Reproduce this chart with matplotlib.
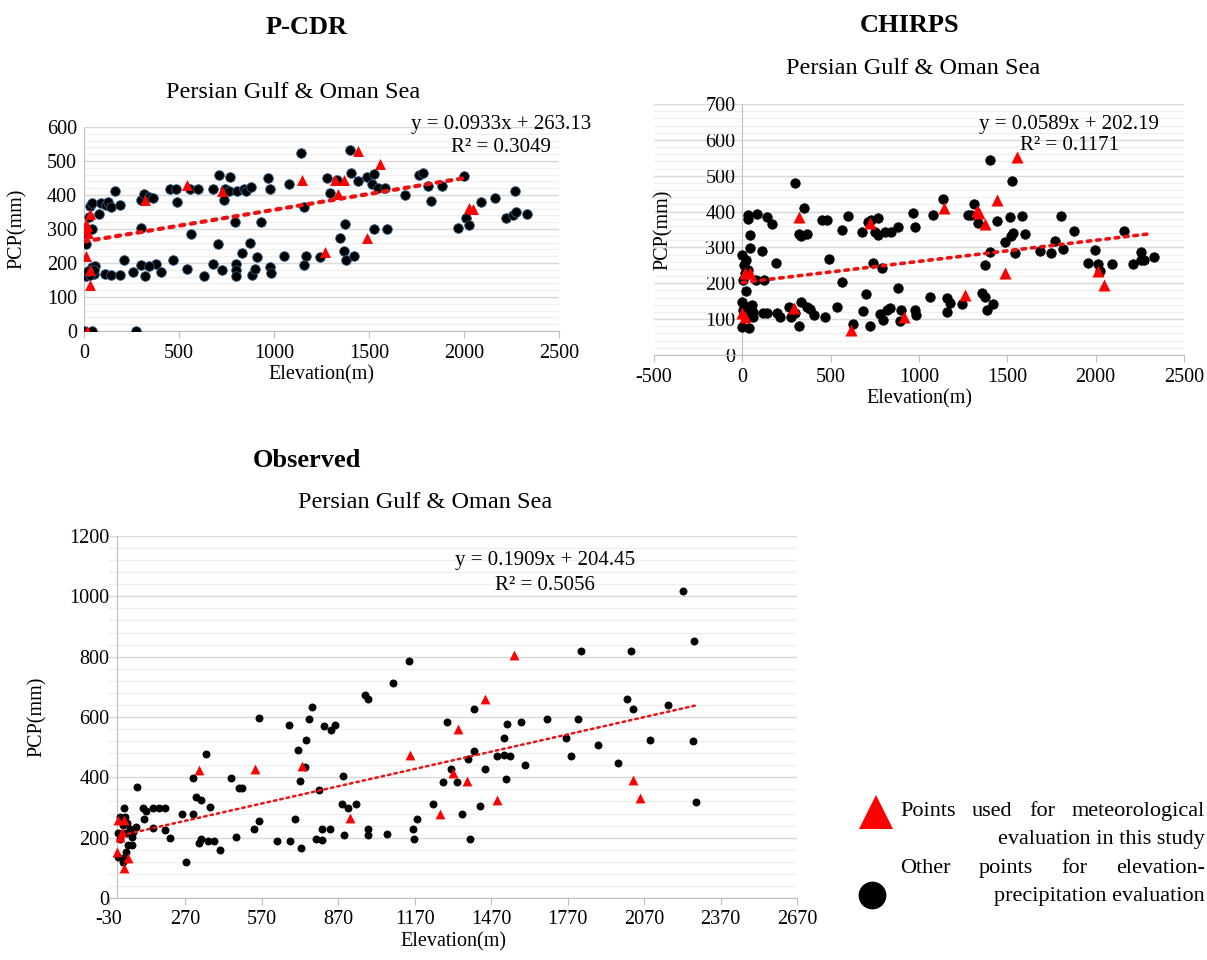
import numpy as np
import matplotlib
matplotlib.use('Agg')
import matplotlib.pyplot as plt
from matplotlib.lines import Line2D
from matplotlib.ticker import MultipleLocator

plt.rcParams['font.family'] = ['Liberation Serif', 'DejaVu Serif']
plt.rcParams['axes.unicode_minus'] = False

# ---------------- data ----------------
# P-CDR
pcdr_other_x = [0, 44, 274, 8, 8, 4, 34, 44, 24, 40, 44, 60, 54, 34, 50, 20,
                80, 88, 114, 124, 144, 164, 188, 108, 144, 188, 210, 260, 298, 300,
                300, 314, 320, 344, 364, 380, 344, 404, 450, 484, 468, 490, 544, 560,
                564, 598, 630, 678, 680, 710, 704, 724, 738, 770, 744, 764, 794, 798,
                798, 802, 804, 832, 840, 854, 880, 874, 884, 900, 910, 934, 968, 980,
                980, 984, 1054, 1080, 1140, 1158, 1158, 1170, 1240, 1278, 1294, 1334,
                1350, 1374, 1370, 1378, 1400, 1404, 1420, 1444, 1488, 1514, 1524, 1528,
                1550, 1584, 1594, 1688, 1764, 1782, 1812, 1824, 1886, 1966, 2000, 2012,
                2026, 2090, 2162, 2220, 2260, 2266, 2272, 2332]
pcdr_other_y = [0, 0, 0, 162, 255, 291, 367, 375, 335, 301, 188, 191, 169, 164, 180, 175,
                345, 375, 372, 379, 365, 412, 372, 169, 164, 164, 208, 173, 384, 303,
                193, 402, 161, 394, 391, 198, 191, 173, 418, 418, 208, 379, 183, 418,
                286, 418, 161, 418, 196, 458, 255, 178, 384, 454, 418, 411, 320, 196,
                178, 162, 411, 229, 418, 411, 423, 259, 164, 183, 218, 320, 451, 418,
                188, 171, 222, 433, 523, 365, 195, 222, 219, 451, 407, 443,
                274, 314, 235, 210, 533, 466, 222, 440, 452, 433, 462, 299,
                421, 421, 299, 401, 458, 465, 427, 381, 427, 304, 455, 333,
                311, 380, 391, 333, 342, 412, 351, 345]
pcdr_met_x = [8, 8, 20, 30, 30, 34, 14, 4, 14, 320, 544, 728, 1148, 1270, 1320, 1338,
              1370, 1440, 1490, 1558, 2026, 2050]
pcdr_met_y = [222, 316, 288, 345, 178, 136, 0, 300, 310, 384, 428, 411, 445, 232, 443, 404,
              445, 529, 273, 490, 362, 360]
pcdr_slope, pcdr_icpt, pcdr_r2 = 0.0933, 263.13, 0.3049
pcdr_trend_x = [0, 2020]

# CHIRPS
chirps_other_x = [0, 11, 21, 32, 17, 6, 21, 0, 4, 11, 0, 36, 32, 32, 43, 43, 32, 53, 60,
                  60, 79, 85, 109, 117, 123, 142, 138, 168, 191, 198, 213, 262, 277, 298,
                  298, 321, 319, 330, 334, 351, 368, 368, 383, 406, 453, 479, 470, 489,
                  538, 562, 562, 600, 628, 677, 681, 702, 713, 724, 730, 738, 751, 766,
                  766, 777, 792, 798, 805, 819, 834, 840, 879, 883, 890, 900, 968, 979,
                  979, 981, 1060, 1081, 1138, 1160, 1160, 1175, 1245, 1277, 1309, 1296,
                  1334, 1355, 1376, 1372, 1383, 1404, 1404, 1421, 1443, 1485, 1515, 1521,
                  1528, 1530, 1543, 1581, 1598, 1685, 1749, 1770, 1802, 1813, 1879, 1956,
                  1996, 2011, 2026, 2090, 2162, 2213, 2256, 2256, 2271, 2330]
chirps_other_y = [279, 251, 265, 237, 228, 209, 178, 149, 126, 112, 77, 74, 390, 378, 335,
                  299, 135, 139, 121, 107, 209, 393, 291, 116, 209, 116, 384, 365, 256,
                  116, 105, 133, 105, 118, 481, 81, 337, 332, 149, 409, 337, 135, 127,
                  112, 376, 376, 107, 268, 135, 350, 203, 388, 86, 342, 124, 169, 370, 82,
                  376, 256, 342, 335, 383, 114, 244, 98, 342, 125, 130, 342, 186, 358, 96,
                  125, 395, 358, 125, 112, 161, 391, 435, 158, 121, 146, 141, 391, 421,
                  391, 367, 172, 163, 251, 125, 544, 288, 141, 375, 314, 386, 332, 485,
                  340, 285, 389, 337, 290, 285, 318, 389, 297, 347, 256, 293, 253, 235,
                  253, 347, 253, 288, 265, 265, 274]
chirps_met_x = [0, 17, 17, 43, 319, 291, 615, 723, 915, 1143, 1260, 1330, 1340, 1372,
                1443, 1485, 1553, 2015, 2047]
chirps_met_y = [116, 107, 228, 228, 386, 130, 70, 367, 105, 409, 167, 402, 395, 365, 432,
                230, 553, 235, 194]
chirps_slope, chirps_icpt, chirps_r2 = 0.0589, 202.19, 0.1171
chirps_trend_x = [0, 2305]

# Observed
obs_other_x = [29, 13, 33, 39, 24, 6, 37, 59, 13, 59, 46, 6, 33, 26, 37, 76, 52, 65,
               81, 104, 108, 117, 141, 141, 167, 189, 189, 209, 258, 274, 300, 300, 313,
               330, 322, 330, 349, 359, 368, 382, 404, 450, 470, 480, 491, 538, 560, 560,
               630, 675, 679, 699, 712, 719, 723, 739, 744, 755, 768, 783, 796, 804, 804,
               812, 836, 842, 855, 884, 887, 891, 907, 940, 974, 987, 987, 987, 1060,
               1086, 1147, 1164, 1167, 1180, 1241, 1282, 1297, 1311, 1334, 1354, 1378,
               1385, 1403, 1403, 1425, 1445, 1491, 1522, 1522, 1528, 1532, 1545, 1586,
               1601, 1689, 1763, 1783, 1810, 1823, 1891, 1969, 2003, 2019, 2028, 2093,
               2165, 2223, 2260, 2266, 2275]
obs_other_y = [297, 269, 267, 247, 241, 214, 214, 202, 197, 175, 175, 136, 136, 119, 153,
               236, 230, 219, 368, 300, 263, 289, 232, 300, 300, 300, 227, 200, 278, 119,
               399, 280, 335, 324, 182, 194, 476, 189, 302, 189, 160, 399, 202, 363, 366,
               230, 255, 597, 189, 573, 189, 263, 490, 387, 167, 435, 523, 594, 632, 197,
               357, 228, 191, 571, 230, 556, 573, 313, 404, 208, 300, 313, 672, 661, 230,
               208, 213, 713, 784, 230, 197, 263, 311, 385, 582, 429, 383, 280, 462, 197,
               625, 488, 305, 426, 472, 531, 473, 393, 576, 472, 582, 442, 592, 531, 472,
               594, 820, 507, 449, 661, 820, 626, 523, 641, 1018, 521, 853, 319]
obs_met_x = [6, 29, 20, 13, 2, 46, 29, 322, 543, 726, 914, 1150, 1269, 1320, 1340, 1376,
             1447, 1491, 1561, 2025, 2054]
obs_met_y = [260, 260, 219, 202, 153, 131, 101, 424, 426, 437, 265, 473, 280, 416, 559,
             388, 661, 326, 805, 390, 332]
obs_slope, obs_icpt, obs_r2 = 0.1909, 204.45, 0.5056
obs_trend_x = [20, 2275]

W, H = 1207, 960
fig = plt.figure(figsize=(W / 100, H / 100), dpi=100)


def px_axes(x0, x1, ytop, ybot):
    return fig.add_axes([x0 / W, 1 - ybot / H, (x1 - x0) / W, (ybot - ytop) / H])


def style_axes(ax, xlim, ylim, xticks, ymajor, yminor):
    ax.set_xlim(*xlim)
    ax.set_ylim(*ylim)
    ax.set_xticks(xticks)
    ax.yaxis.set_major_locator(MultipleLocator(ymajor))
    ax.yaxis.set_minor_locator(MultipleLocator(yminor))
    ax.grid(axis='y', which='major', color='#d9d9d9', lw=1.0)
    ax.grid(axis='y', which='minor', color='#f0f0f0', lw=1.0)
    ax.set_axisbelow(True)
    for s in ['top', 'right']:
        ax.spines[s].set_visible(False)
    ax.spines['left'].set_position(('data', 0))
    ax.spines['bottom'].set_position(('data', 0))
    ax.spines['left'].set_color('#bfbfbf')
    ax.spines['bottom'].set_color('#bfbfbf')
    ax.tick_params(axis='y', which='both', length=0, labelsize=14.5, pad=5)
    ax.tick_params(axis='x', length=5, color='#bfbfbf', labelsize=14.5, pad=4)
    ax.set_xlabel('Elevation(m)', fontsize=14.5, labelpad=2)
    ax.set_ylabel('PCP(mm)', fontsize=14.5)


def draw(ax, ox, oy, mx, my, slope, icpt, tx, dot_s, tri_s, lw, edge):
    ax.scatter(ox, oy, s=dot_s, c='black', edgecolors=edge, linewidths=0.6, zorder=3)
    ax.scatter(mx, my, s=tri_s, c='red', marker='^', linewidths=0, zorder=4)
    tx = np.array(tx, dtype=float)
    ax.plot(tx, slope * tx + icpt, color='#f01010', lw=lw, ls=(0, (1, 1.6)),
            dash_capstyle='round', zorder=5)


# P-CDR
ax1 = px_axes(84, 559, 127, 331)
style_axes(ax1, (0, 2500), (0, 600), [0, 500, 1000, 1500, 2000, 2500], 100, 20)
draw(ax1, pcdr_other_x, pcdr_other_y, pcdr_met_x, pcdr_met_y, pcdr_slope, pcdr_icpt,
     pcdr_trend_x, 48, 62, 3.0, '#2e5f8a')
ax1.yaxis.set_label_coords(-0.12, 0.5)

# CHIRPS
ax2 = px_axes(654, 1184, 104, 355)
style_axes(ax2, (-500, 2500), (0, 700), [-500, 0, 500, 1000, 1500, 2000, 2500], 100, 20)
draw(ax2, chirps_other_x, chirps_other_y, chirps_met_x, chirps_met_y, chirps_slope,
     chirps_icpt, chirps_trend_x, 46, 75, 2.6, 'black')
ax2.yaxis.set_label_coords(0.035, 0.5)

# Observed
ax3 = px_axes(109, 797, 536, 898)
style_axes(ax3, (-30, 2670), (0, 1200), list(range(-30, 2671, 300)), 200, 40)
draw(ax3, obs_other_x, obs_other_y, obs_met_x, obs_met_y, obs_slope, obs_icpt,
     obs_trend_x, 26, 50, 1.8, 'black')
ax3.yaxis.set_label_coords(-0.09, 0.5)


def ftext(x, y, s, **kw):
    fig.text(x / W, 1 - y / H, s, ha=kw.pop('ha', 'center'), va=kw.pop('va', 'center'), **kw)


# titles and subtitles
ftext(307, 27, 'P-CDR', fontsize=19, fontweight='bold')
ftext(293, 92, 'Persian Gulf & Oman Sea', fontsize=17.5)
ftext(910, 26, 'CHIRPS', fontsize=19, fontweight='bold')
ftext(913, 68, 'Persian Gulf & Oman Sea', fontsize=17.5)
ftext(307, 460, 'Observed', fontsize=19, fontweight='bold')
ftext(425, 503, 'Persian Gulf & Oman Sea', fontsize=17.5)

# trendline equations
for (cx, y1, y2), sl, ic, r2 in [((501, 124, 147), pcdr_slope, pcdr_icpt, pcdr_r2),
                                 ((1069, 124, 146), chirps_slope, chirps_icpt, chirps_r2),
                                 ((545, 561, 585), obs_slope, obs_icpt, obs_r2)]:
    ftext(cx, y1, f'y = {sl}x + {ic}', fontsize=15)
    ftext(cx, y2, f'R\u00b2 = {r2}', fontsize=15)

# legend
fig.add_artist(Line2D([876 / W], [1 - 812 / H], marker='^', color='red', ms=24,
                      mew=0, transform=fig.transFigure))
fig.add_artist(Line2D([872 / W], [1 - 895 / H], marker='o', color='black', ms=20,
                      mew=0, transform=fig.transFigure))

renderer = fig.canvas.get_renderer()


def justify(words, x0, x1, y, size):
    texts, widths = [], []
    for w in words:
        t = fig.text(0, 1 - y / H, w, fontsize=size, va='baseline', ha='left')
        widths.append(t.get_window_extent(renderer=renderer).width)
        texts.append(t)
    gap = ((x1 - x0) - sum(widths)) / (len(words) - 1)
    pos = x0
    for t, wd in zip(texts, widths):
        t.set_x(pos / W)
        pos += wd + gap


justify(['Points', 'used', 'for', 'meteorological'], 900, 1205, 816, 16)
ftext(1205, 844, 'evaluation in this study', fontsize=16, ha='right', va='baseline')
justify(['Other', 'points', 'for', 'elevation-'], 900, 1205, 873, 16)
ftext(1205, 901, 'precipitation evaluation', fontsize=16, ha='right', va='baseline')

fig.savefig('out.png', dpi=100)
